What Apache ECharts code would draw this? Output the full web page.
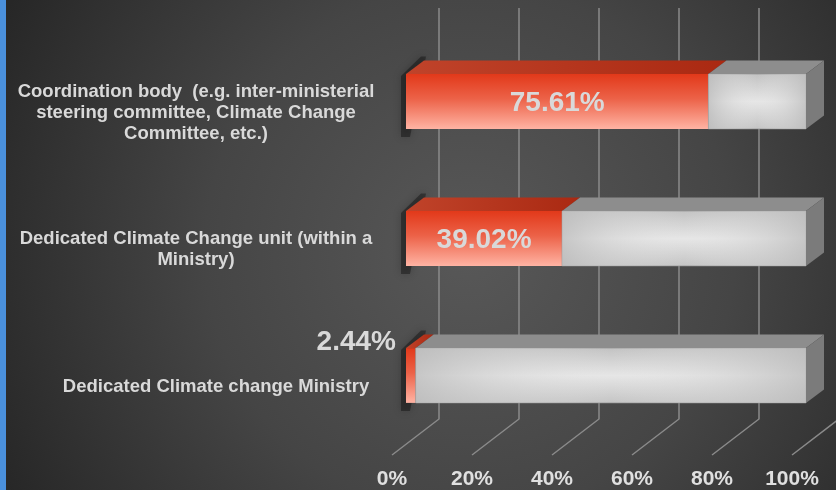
<!DOCTYPE html>
<html>
<head>
<meta charset="utf-8">
<title>Climate change institutional arrangements</title>
<script src="https://cdn.jsdelivr.net/npm/echarts@6/dist/echarts.min.js"></script>
<style>
  html, body { margin: 0; padding: 0; background: #2b2b2b; }
  #chart { width: 836px; height: 490px; }
</style>
</head>
<body>
<div id="chart"></div>
<script>
// Categories, top to bottom
const categories = [
  'Coordination body  (e.g. inter-ministerial\nsteering committee, Climate Change\nCommittee, etc.)',
  'Dedicated Climate Change unit (within a\nMinistry)',
  'Dedicated Climate change Ministry'
];
// Share of respondents (%) per category
const shareValues = [75.61, 39.02, 2.44];
// Axis ticks (%)
const tickValues = [0, 20, 40, 60, 80, 100];

const FONT = '"Liberation Sans", Arial, Helvetica, sans-serif';

// Pseudo-3D geometry (pixel offsets)
const FLOOR_DEPTH = [47, -36];     // floor front edge -> back wall
const BAR_FRONT = [14, -11];       // front plane -> front face of bars
const BAR_DEPTH = [18, -13.5];     // thickness of each bar

const chart = echarts.init(document.getElementById('chart'), null, { renderer: 'canvas' });

function renderGrid(params, api) {
  const cs = params.coordSys;
  const p = api.coord([api.value(0), 0]);
  const bottom = cs.y + cs.height;
  const top = cs.y;
  const fx = p[0];
  const bx = fx + FLOOR_DEPTH[0];
  return {
    type: 'polyline',
    shape: { points: [[fx, bottom], [bx, bottom + FLOOR_DEPTH[1]], [bx, top + FLOOR_DEPTH[1]]] },
    style: { stroke: '#8a8a8a', lineWidth: 1.5, fill: null }
  };
}

function renderBar(params, api) {
  const cat = api.value(0);
  const v = api.value(1);
  const p0 = api.coord([0, cat]);
  const pv = api.coord([v, cat]);
  const p1 = api.coord([100, cat]);
  const band = api.size([0, 1])[1];
  const h = band * 0.4;
  const cy = p0[1] + BAR_FRONT[1];
  const yt = cy - h / 2, yb = cy + h / 2;
  const x0 = p0[0] + BAR_FRONT[0];
  const xv = pv[0] + BAR_FRONT[0];
  const x1 = p1[0] + BAR_FRONT[0];
  const dx = BAR_DEPTH[0], dy = BAR_DEPTH[1];

  const children = [];
  // soft shadow on the left end
  children.push({
    type: 'polygon',
    shape: { points: [[x0 - 5, yb + 8], [x0 - 5, yt + 2], [x0 + dx - 3, yt + dy - 4], [x0 + dx + 2, yt + dy - 4], [x0 + 4, yb + 8]] },
    style: { fill: 'rgba(0,0,0,0.35)', shadowBlur: 8, shadowColor: 'rgba(0,0,0,0.6)' }
  });
  // red segment: front face
  children.push({
    type: 'rect',
    shape: { x: x0, y: yt, width: xv - x0, height: h },
    style: {
      fill: new echarts.graphic.LinearGradient(0, 0, 0, 1, [
        { offset: 0, color: '#e2391a' },
        { offset: 0.45, color: '#ec6248' },
        { offset: 1, color: '#ffb3a3' }
      ])
    }
  });
  // red segment: top face
  children.push({
    type: 'polygon',
    shape: { points: [[x0, yt], [xv, yt], [xv + dx, yt + dy], [x0 + dx, yt + dy]] },
    style: {
      fill: new echarts.graphic.LinearGradient(0, 0, 1, 0, [
        { offset: 0, color: '#c0432a' },
        { offset: 1, color: '#aa2912' }
      ])
    }
  });
  // grey remainder: front face
  children.push({
    type: 'rect',
    shape: { x: xv, y: yt, width: x1 - xv, height: h },
    style: {
      fill: new echarts.graphic.LinearGradient(0, 0, 0, 1, [
        { offset: 0, color: '#c2c2c2' },
        { offset: 0.5, color: '#e6e6e6' },
        { offset: 1, color: '#c4c4c4' }
      ]),
      stroke: 'rgba(150,150,150,0.7)', lineWidth: 1
    }
  });
  children.push({
    type: 'rect',
    shape: { x: xv, y: yt, width: x1 - xv, height: h },
    style: {
      fill: new echarts.graphic.LinearGradient(0, 0, 1, 0, [
        { offset: 0, color: 'rgba(188,188,188,0.75)' },
        { offset: 0.5, color: 'rgba(232,232,232,0)' },
        { offset: 1, color: 'rgba(188,188,188,0.75)' }
      ])
    }
  });
  // grey remainder: top face
  children.push({
    type: 'polygon',
    shape: { points: [[xv, yt], [x1, yt], [x1 + dx, yt + dy], [xv + dx, yt + dy]] },
    style: { fill: '#8d8d8d' }
  });
  // right end face
  children.push({
    type: 'polygon',
    shape: { points: [[x1, yt], [x1 + dx, yt + dy], [x1 + dx, yb + dy], [x1, yb]] },
    style: { fill: '#7b7b7b' }
  });
  // value label
  const label = v.toFixed(2) + '%';
  const inside = (xv - x0) > 90;
  children.push({
    type: 'text',
    x: inside ? (x0 + xv) / 2 : x0 - 10,
    y: inside ? cy + 2 : yt - 6,
    style: {
      text: label,
      fill: '#d9d9d9',
      font: 'bold 28px ' + FONT,
      align: inside ? 'center' : 'right',
      verticalAlign: 'middle'
    }
  });
  return { type: 'group', children };
}

const option = {
  animation: false,
  graphic: [
    {
      type: 'rect', z: -10, silent: true,
      shape: { x: 0, y: 0, width: 836, height: 490 },
      style: {
        fill: new echarts.graphic.RadialGradient(470, 250, 530, [
          { offset: 0, color: '#585858' },
          { offset: 0.5, color: '#454545' },
          { offset: 1, color: '#262626' }
        ], true)
      }
    },
    {
      type: 'rect', z: 10, silent: true,
      shape: { x: 0, y: 0, width: 6, height: 490 },
      style: { fill: '#4a90dc' }
    }
  ],
  grid: {
    left: 392, width: 400, top: 44, height: 411,
    containLabel: false, outerBoundsMode: 'none'
  },
  xAxis: {
    type: 'value', min: 0, max: 100, interval: 20,
    axisLine: { show: false }, axisTick: { show: false }, splitLine: { show: false },
    axisLabel: {
      formatter: '{value}%', color: '#e0e0e0', fontSize: 21, fontWeight: 'bold',
      fontFamily: FONT, margin: 14
    }
  },
  yAxis: {
    type: 'category', inverse: true,
    data: categories,
    axisLine: { show: false }, axisTick: { show: false }, splitLine: { show: false },
    axisLabel: {
      color: '#d9d9d9', fontSize: 18.5, fontWeight: 'bold', fontFamily: FONT,
      lineHeight: 21, align: 'center', margin: 196,
      // single-line label sits a little to the right of the wrapped ones
      formatter: (value) => value.indexOf('\n') < 0 ? '{gap|}' + value : value,
      rich: { gap: { width: 40 } }
    }
  },
  series: [
    {
      type: 'custom', name: 'grid', silent: true, z: 1,
      renderItem: renderGrid,
      encode: { x: 0 },
      data: tickValues.map(t => [t])
    },
    {
      type: 'custom', name: 'share', z: 3,
      renderItem: renderBar,
      encode: { y: 0, x: 1 },
      data: shareValues.map((v, i) => [i, v])
    }
  ]
};

chart.setOption(option);
</script>
</body>
</html>
